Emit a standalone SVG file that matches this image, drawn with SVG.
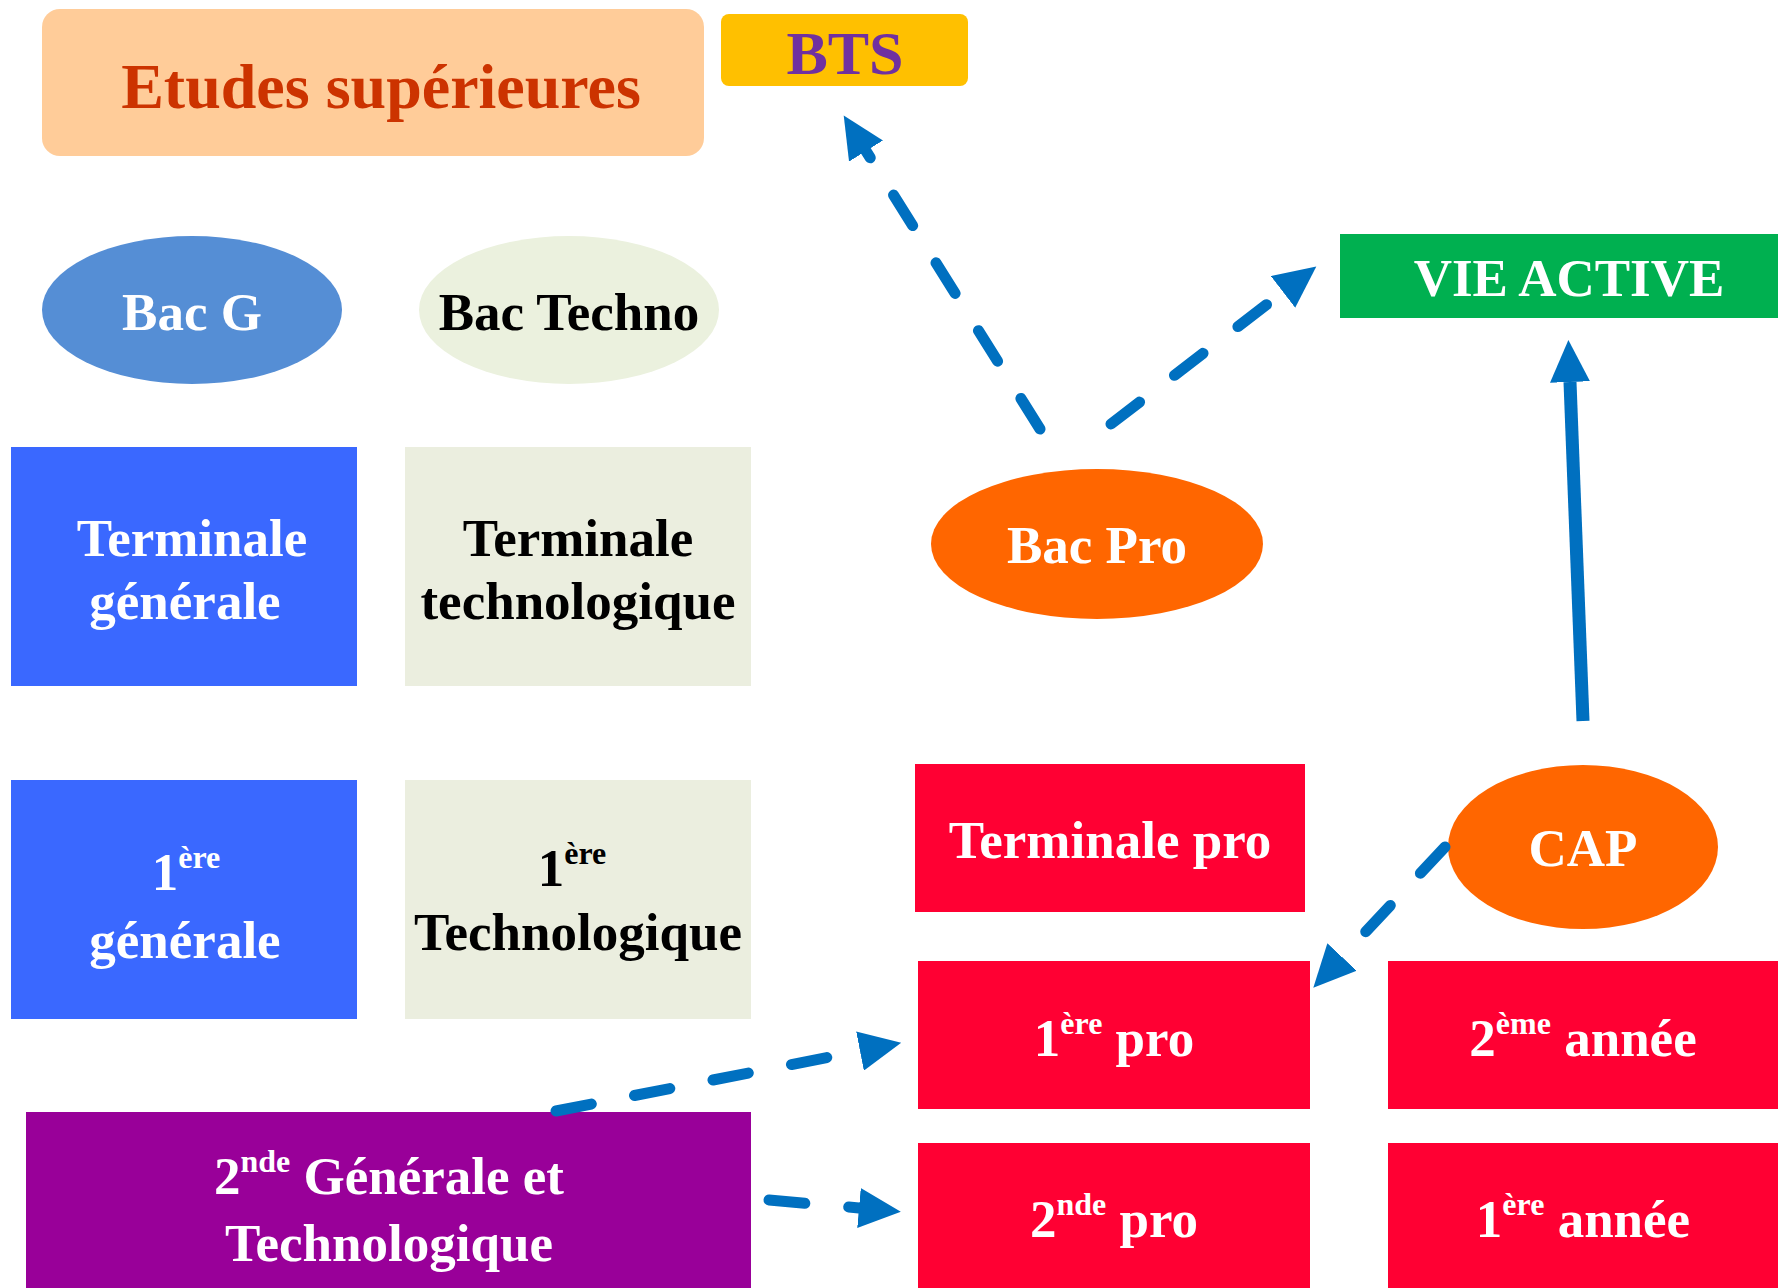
<svg xmlns="http://www.w3.org/2000/svg" width="1778" height="1288" viewBox="0 0 1778 1288">
<defs>
<style>
text{font-family:"Liberation Serif","Times New Roman",serif;font-weight:bold;font-size:53px;text-anchor:middle}
.w{fill:#ffffff}
.k{fill:#000000}
.sup{font-size:32px}
.conn{stroke:#0070C0;stroke-width:11;fill:none;stroke-linecap:round}
.dash{stroke-dasharray:36 44}
</style>
<marker id="ah" markerUnits="userSpaceOnUse" markerWidth="44" markerHeight="40" refX="0" refY="20" orient="auto">
<path d="M0,0 L42,20 L0,40 z" fill="#0070C0"/>
</marker>
</defs>
<rect width="1778" height="1288" fill="#ffffff"/>

<g id="etudes">
<rect x="42" y="9" width="662" height="147" rx="18" fill="#FFCC99"/>
<text x="381" y="108" style="font-size:64px;fill:#CC3300">Etudes supérieures</text>
</g>
<g id="bts">
<rect x="721" y="14" width="247" height="72" rx="8" fill="#FFC000"/>
<text x="845" y="74" style="font-size:62px;fill:#7030A0">BTS</text>
</g>
<g id="bacg">
<ellipse cx="192" cy="310" rx="150" ry="74" fill="#558ED5"/>
<text x="192" y="330" class="w">Bac G</text>
</g>
<g id="bactechno">
<ellipse cx="569" cy="310" rx="150" ry="74" fill="#EBF1DE"/>
<text x="569" y="330" class="k">Bac Techno</text>
</g>
<g id="termgen">
<rect x="11" y="447" width="346" height="239" fill="#3A68FF"/>
<text x="192" y="556" class="w">Terminale</text>
<text x="185" y="619" class="w">générale</text>
</g>
<g id="termtech">
<rect x="405" y="447" width="346" height="239" fill="#EBEEDF"/>
<text x="578" y="556" class="k">Terminale</text>
<text x="578" y="619" class="k">technologique</text>
</g>
<g id="premgen">
<rect x="11" y="780" width="346" height="239" fill="#3A68FF"/>
<text x="186" y="890" class="w">1<tspan class="sup" dy="-22">ère</tspan></text>
<text x="185" y="958" class="w">générale</text>
</g>
<g id="premtech">
<rect x="405" y="780" width="346" height="239" fill="#EBEEDF"/>
<text x="572" y="886" class="k">1<tspan class="sup" dy="-22">ère</tspan></text>
<text x="578" y="950" class="k">Technologique</text>
</g>
<g id="secondegt">
<rect x="26" y="1112" width="725" height="176" fill="#990099"/>
<text x="389" y="1194" class="w">2<tspan class="sup" dy="-22">nde</tspan><tspan dy="22"> Générale et</tspan></text>
<text x="389" y="1261" class="w">Technologique</text>
</g>
<g id="bacpro">
<ellipse cx="1097" cy="544" rx="166" ry="75" fill="#FF6600"/>
<text x="1097" y="563" class="w">Bac Pro</text>
</g>
<g id="vieactive">
<rect x="1340" y="234" width="438" height="84" fill="#00B050"/>
<text x="1569" y="296" class="w">VIE ACTIVE</text>
</g>
<g id="termpro">
<rect x="915" y="764" width="390" height="148" fill="#FF0033"/>
<text x="1110" y="858" class="w">Terminale pro</text>
</g>
<g id="cap">
<ellipse cx="1583" cy="847" rx="135" ry="82" fill="#FF6600"/>
<text x="1583" y="866" class="w">CAP</text>
</g>
<g id="premierepro">
<rect x="918" y="961" width="392" height="148" fill="#FF0033"/>
<text x="1114" y="1056" class="w">1<tspan class="sup" dy="-22">ère</tspan><tspan dy="22"> pro</tspan></text>
</g>
<g id="deuxannee">
<rect x="1388" y="961" width="390" height="148" fill="#FF0033"/>
<text x="1583" y="1056" class="w">2<tspan class="sup" dy="-22">ème</tspan><tspan dy="22"> année</tspan></text>
</g>
<g id="secondepro">
<rect x="918" y="1143" width="392" height="145" fill="#FF0033"/>
<text x="1114" y="1237" class="w">2<tspan class="sup" dy="-22">nde</tspan><tspan dy="22"> pro</tspan></text>
</g>
<g id="premannee">
<rect x="1388" y="1143" width="390" height="145" fill="#FF0033"/>
<text x="1583" y="1237" class="w">1<tspan class="sup" dy="-22">ère</tspan><tspan dy="22"> année</tspan></text>
</g>

<g id="connectors">
<line class="conn dash" x1="1040" y1="429" x2="866" y2="151" marker-end="url(#ah)"/>
<line class="conn dash" x1="1111" y1="424" x2="1283" y2="292" marker-end="url(#ah)"/>
<line class="conn" style="stroke-width:13;stroke-linecap:butt" x1="1583" y1="721" x2="1570" y2="382" marker-end="url(#ah)"/>
<line class="conn dash" x1="1445" y1="847" x2="1342" y2="957" marker-end="url(#ah)"/>
<line class="conn dash" x1="556" y1="1111" x2="860" y2="1051" marker-end="url(#ah)"/>
<line class="conn dash" x1="769" y1="1200" x2="859" y2="1208" marker-end="url(#ah)"/>
</g>
</svg>
